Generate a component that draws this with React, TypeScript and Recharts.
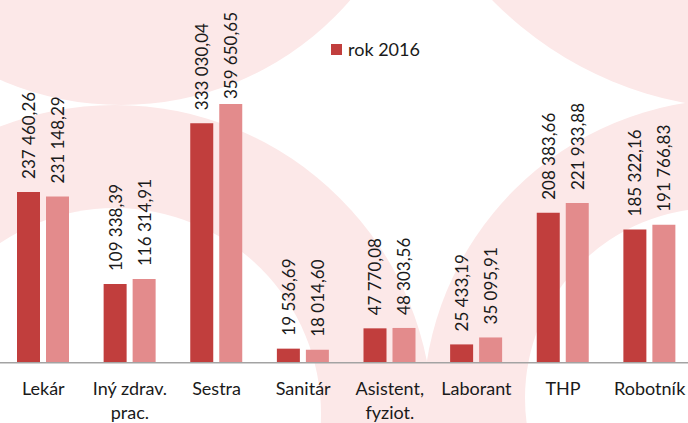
import React from 'react';
import { BarChart, Bar, XAxis, YAxis, Legend, LabelList } from 'recharts';

const categories = [
  'Lekár',
  'Iný zdrav.\nprac.',
  'Sestra',
  'Sanitár',
  'Asistent,\nfyziot.',
  'Laborant',
  'THP',
  'Robotník',
];
const rok2016 = [237460.26, 109338.39, 333030.04, 19536.69, 47770.08, 25433.19, 208383.66, 185322.16];
const rok2017 = [231148.29, 116314.91, 359650.65, 18014.6, 48303.56, 35095.91, 221933.88, 191766.83];

const DARK = '#C13E3D';
const LIGHT = '#E38B8C';
const PINK = '#FCE8E8';
const FONT = 'Lato, "Open Sans", sans-serif';
const TEXT = '#1a1a1a';

const data = categories.map((name, i) => ({ name, a: rok2016[i], b: rok2017[i] }));

const fmt = (v: number) => {
  const [int, dec] = v.toFixed(2).split('.');
  return int.replace(/\B(?=(\d{3})+(?!\d))/g, ' ') + ',' + dec;
};

// rotated value label; pushed down when it would run off the top
const ValueLabel = (props: any) => {
  const { x, y, width, value } = props;
  const cx = x + width / 2;
  let cy = y - 13;
  let anchor = 'start';
  if (cy - 88 < 12) {
    cy = 12;
    anchor = 'end';
  }
  return (
    <text
      x={cx}
      y={cy}
      transform={`rotate(-90, ${cx}, ${cy})`}
      textAnchor={anchor}
      dominantBaseline="central"
      fontFamily={FONT}
      fontSize={17}
      fill={TEXT}
    >
      {fmt(value)}
    </text>
  );
};

const CategoryTick = ({ x, y, payload }: any) => {
  const lines = String(payload.value).split('\n');
  return (
    <text x={x} y={y + 32} textAnchor="middle" fontFamily={FONT} fontSize={18} fill={TEXT}>
      {lines.map((l, i) => (
        <tspan key={i} x={x} dy={i === 0 ? 0 : 24.5}>
          {l}
        </tspan>
      ))}
    </text>
  );
};

// decorative background arcs
const Background = () => (
  <svg width={688} height={423} style={{ position: 'absolute', left: 0, top: 0 }}>
    <circle cx={121} cy={-198} r={303} fill={PINK} />
    <circle cx={751} cy={-253} r={362} fill={PINK} />
    <circle cx={115} cy={423} r={318} fill={PINK} />
    <circle cx={115} cy={414} r={206} fill="#fff" />
    <circle cx={734} cy={410} r={311} fill={PINK} />
    <circle cx={715} cy={398} r={190} fill="#fff" />
  </svg>
);

export default function App() {
  return (
    <div
      style={{
        position: 'fixed',
        left: 0,
        top: 0,
        width: 688,
        height: 423,
        overflow: 'hidden',
        background: '#fff',
      }}
    >
      <Background />
      <div style={{ position: 'absolute', left: 0, top: 0 }}>
        <BarChart
          width={693}
          height={423}
          data={data}
          margin={{ top: 75, right: 0, bottom: 0, left: 0 }}
          barSize={23}
          barGap={6}
        >
          <XAxis
            dataKey="name"
            interval={0}
            height={60.3}
            tickLine={false}
            tickSize={0}
            tickMargin={0}
            axisLine={{ stroke: '#A3A3A3', strokeWidth: 1.5 }}
            tick={<CategoryTick />}
          />
          <YAxis hide domain={[0, 400000]} />
          <Legend
            layout="horizontal"
            verticalAlign="middle"
            align="center"
            wrapperStyle={{ position: 'absolute', top: 38, left: 331, width: 'auto' }}
            content={() => (
              <div style={{ display: 'flex', alignItems: 'center', fontFamily: FONT, fontSize: 18, color: TEXT }}>
                <span style={{ display: 'inline-block', width: 11, height: 11, background: DARK, marginRight: 6 }} />
                <span>rok 2016</span>
              </div>
            )}
          />
          <Bar dataKey="a" name="rok 2016" fill={DARK} isAnimationActive={false}>
            <LabelList dataKey="a" content={<ValueLabel />} />
          </Bar>
          <Bar dataKey="b" name="rok 2017" fill={LIGHT} legendType="none" isAnimationActive={false}>
            <LabelList dataKey="b" content={<ValueLabel />} />
          </Bar>
        </BarChart>
      </div>
    </div>
  );
}
